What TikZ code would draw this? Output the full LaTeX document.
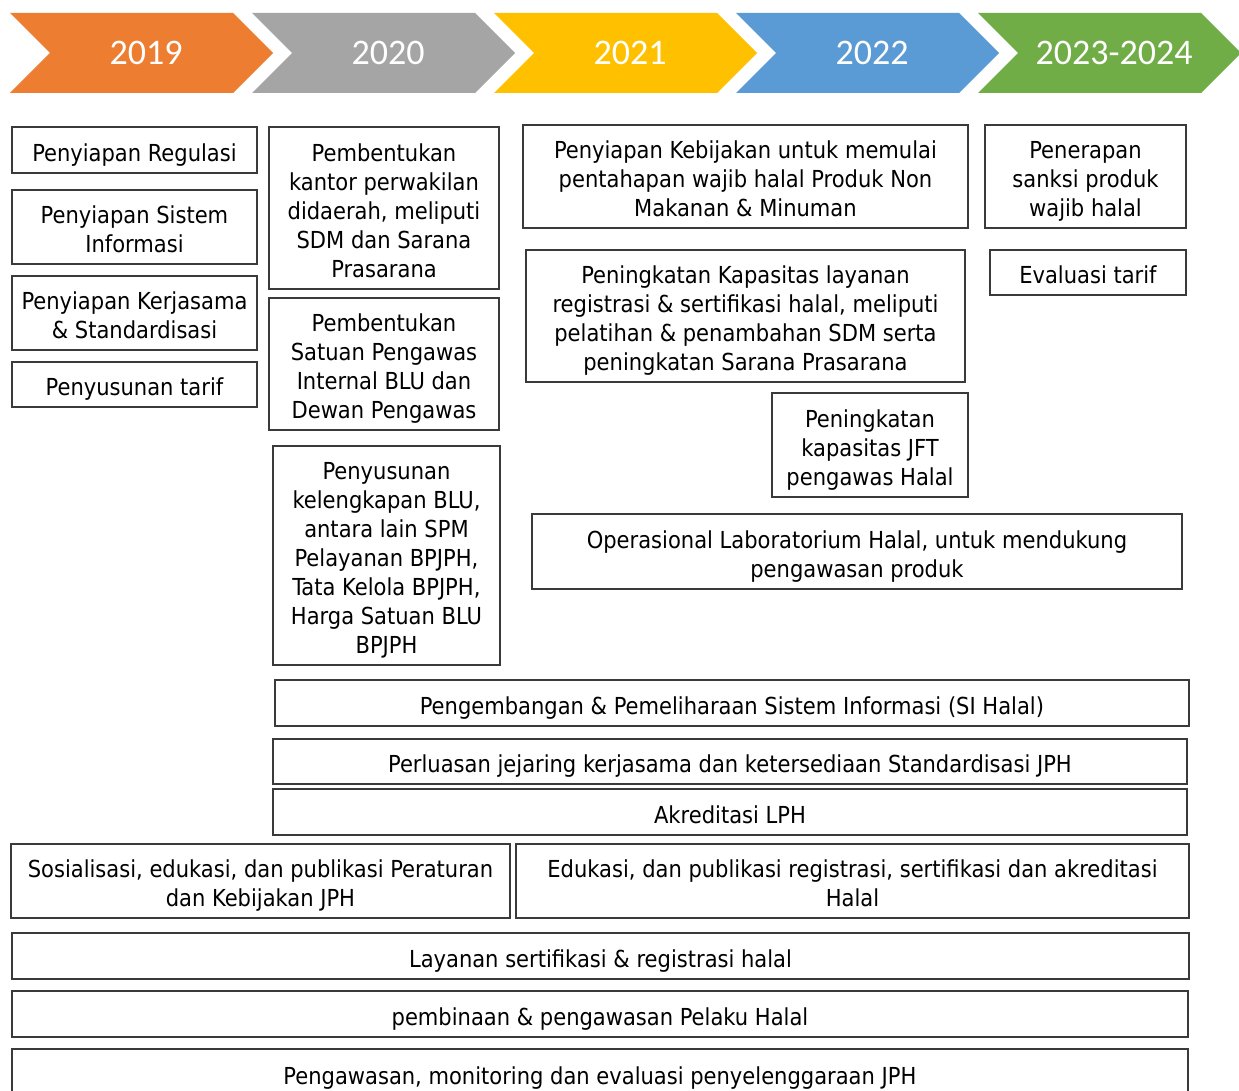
\documentclass[tikz,border=0pt]{standalone}
\usepackage{fontspec}
\setmainfont{DejaVu Sans Condensed}
\newfontfamily\yearfont{Carlito}
\definecolor{corange}{HTML}{ED7D31}
\definecolor{cgray}{HTML}{A5A5A5}
\definecolor{cyellow}{HTML}{FFC000}
\definecolor{cblue}{HTML}{5B9BD5}
\definecolor{cgreen}{HTML}{70AD47}
\definecolor{cline}{HTML}{3A3A3A}
\tikzset{
  box/.style={draw=cline, line width=1.1pt, align=center, inner sep=0pt, fill=white,
    font=\fontsize{23.4}{29}\selectfont, text=black},
  yeartext/.style={text=white, font=\yearfont\fontsize{36}{40}\selectfont, inner sep=0pt}
}
\newcommand\topstrut{\rule{0pt}{28.5pt}}
\newcommand\botstrut{\rule[-6pt]{0pt}{0pt}}
\newcommand\bx[6]{\node[box, minimum width={#4-#2}, minimum height={#5-#3}] (#1) at ({(#2+#4)/2},{(#3+#5)/2}) {\topstrut#6\botstrut};}
\newcommand\chev[4]{%
  \fill[#2] (#1,13) -- (#1+223,13) -- (#1+263,53) -- (#1+223,93) -- (#1,93) -- (#1+40,53) -- cycle;
  \node[yeartext] (#3) at (#1+136,53) {#4};}
\begin{document}
\begin{tikzpicture}[x=1pt,y=-1pt]
\useasboundingbox (0,0) rectangle (1239,1091);
\clip (0,0) rectangle (1239,1091);
\fill[white] (0,0) rectangle (1239,1091);
% timeline chevrons
\chev{10}{corange}{y19}{2019}
\chev{252}{cgray}{y20}{2020}
\chev{494}{cyellow}{y21}{2021}
\chev{736}{cblue}{y22}{2022}
\chev{978}{cgreen}{y23}{2023-2024}
% 2019 column
\bx{reg}{12}{127}{257}{173}{Penyiapan Regulasi}
\bx{sis}{12}{190}{257}{264}{Penyiapan Sistem\\Informasi}
\bx{ker}{12}{276}{257}{350}{Penyiapan Kerjasama\\\& Standardisasi}
\bx{tar}{12}{362}{257}{407}{Penyusunan tarif}
% 2020 column
\bx{kan}{269}{127}{499}{289}{Pembentukan\\kantor perwakilan\\didaerah, meliputi\\SDM dan Sarana\\Prasarana}
\bx{spi}{269}{298}{499}{430}{Pembentukan\\Satuan Pengawas\\Internal BLU dan\\Dewan Pengawas}
\bx{blu}{273}{446}{500}{665}{Penyusunan\\kelengkapan BLU,\\antara lain SPM\\Pelayanan BPJPH,\\Tata Kelola BPJPH,\\Harga Satuan BLU\\BPJPH}
% 2021-2022
\bx{keb}{523}{125}{968}{228}{Penyiapan Kebijakan untuk memulai\\pentahapan wajib halal Produk Non\\Makanan \& Minuman}
\bx{kap}{526}{250}{965}{382}{Peningkatan Kapasitas layanan\\registrasi \& sertifikasi halal, meliputi\\pelatihan \& penambahan SDM serta\\peningkatan Sarana Prasarana}
\bx{jft}{772}{393}{968}{497}{Peningkatan\\kapasitas JFT\\pengawas Halal}
\bx{lab}{532}{514}{1182}{589}{Operasional Laboratorium Halal, untuk mendukung\\pengawasan produk}
% 2023-2024
\bx{san}{985}{125}{1186}{228}{Penerapan\\sanksi produk\\wajib halal}
\bx{eva}{990}{250}{1186}{295}{Evaluasi tarif}
% wide rows
\bx{pen}{275}{680}{1189}{726}{Pengembangan \& Pemeliharaan Sistem Informasi (SI Halal)}
\bx{per}{273}{739}{1187}{784}{Perluasan jejaring kerjasama dan ketersediaan Standardisasi JPH}
\bx{akr}{273}{789}{1187}{835}{Akreditasi LPH}
\bx{sos}{11}{844}{510}{918}{Sosialisasi, edukasi, dan publikasi Peraturan\\dan Kebijakan JPH}
\bx{edu}{516}{844}{1189}{918}{Edukasi, dan publikasi registrasi, sertifikasi dan akreditasi\\Halal}
\bx{lay}{12}{933}{1189}{979}{Layanan sertifikasi \& registrasi halal}
\bx{pem}{12}{991}{1188}{1037}{pembinaan \& pengawasan Pelaku Halal}
\bx{mon}{12}{1049}{1188}{1097}{Pengawasan, monitoring dan evaluasi penyelenggaraan JPH}
\end{tikzpicture}
\end{document}
